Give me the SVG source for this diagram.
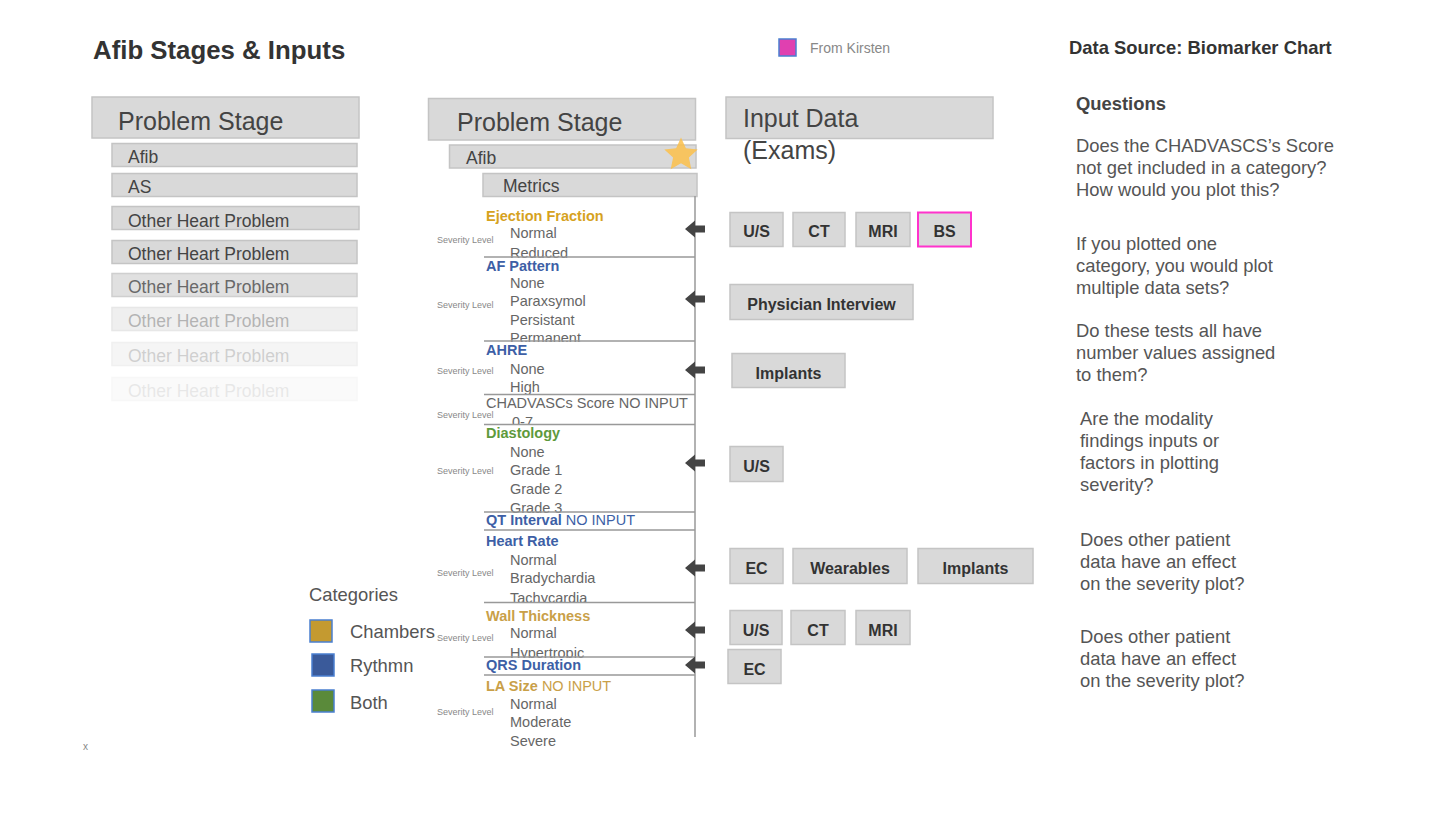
<svg xmlns="http://www.w3.org/2000/svg" width="1440" height="817" viewBox="0 0 1440 817">
<style>
text{font-family:"Liberation Sans",Arial,sans-serif}
.box{fill:#d9d9d9;stroke:#c4c4c4;stroke-width:1.5}
.hdr{font-size:25px;fill:#444}
.item{font-size:17.5px;fill:#444}
.btn{font-size:16px;font-weight:bold;fill:#333;text-anchor:middle}
.mh{font-size:14.5px;font-weight:bold}
.val{font-size:14.5px;fill:#666}
.sev{font-size:9px;fill:#888}
.gold{fill:#d6a21e}
.gold2{fill:#c9a048}
.blue{fill:#3d5fa6}
.green{fill:#5e9a3c}
.div{stroke:#999;stroke-width:1.5}
.band{fill:#fff}
.q{font-size:18.4px;fill:#555}
.arrow{fill:#444}
</style>

<g id="title"><text x="93" y="59" style="font-size:25.8px;font-weight:bold;fill:#333">Afib Stages &amp; Inputs</text></g>

<g id="legend-kirsten">
<rect x="779" y="39" width="17" height="17" fill="#e040b0" stroke="#4a7fd0" stroke-width="1.5"/>
<text x="810" y="53" style="font-size:14px;fill:#888">From Kirsten</text>
</g>

<g id="data-source"><text x="1069" y="54" style="font-size:18.4px;font-weight:bold;fill:#333">Data Source: Biomarker Chart</text></g>

<!-- Left column -->
<g id="left-stage">
<rect class="box" x="92" y="97" width="267" height="41"/>
<text class="hdr" x="118" y="130">Problem Stage</text>
</g>
<g id="left-afib"><rect class="box" x="112" y="143.5" width="245" height="23"/><text class="item" x="128" y="163">Afib</text></g>
<g id="left-as"><rect class="box" x="112" y="173.5" width="245" height="23"/><text class="item" x="128" y="193">AS</text></g>
<g id="left-other1"><rect class="box" x="112" y="206.5" width="247" height="23"/><text class="item" x="128" y="226.5">Other Heart Problem</text></g>
<g id="left-other2"><rect class="box" x="112" y="240.5" width="245" height="23"/><text class="item" x="128" y="260">Other Heart Problem</text></g>
<g id="left-other3" opacity="0.8"><rect class="box" x="112" y="273.5" width="245" height="23"/><text class="item" x="128" y="293">Other Heart Problem</text></g>
<g id="left-other4" opacity="0.4"><rect class="box" x="112" y="307.5" width="245" height="23"/><text class="item" x="128" y="327">Other Heart Problem</text></g>
<g id="left-other5" opacity="0.25"><rect class="box" x="112" y="342.5" width="245" height="23"/><text class="item" x="128" y="362">Other Heart Problem</text></g>
<g id="left-other6" opacity="0.12"><rect class="box" x="112" y="377.5" width="245" height="23"/><text class="item" x="128" y="397">Other Heart Problem</text></g>

<!-- Middle column -->
<g id="mid-stage">
<rect class="box" x="428.5" y="98.5" width="267" height="41.5"/>
<text class="hdr" x="457" y="131">Problem Stage</text>
</g>
<g id="mid-afib">
<rect class="box" x="449.5" y="145" width="246.5" height="23"/>
<text class="item" x="466" y="164">Afib</text>
<polygon points="681,137.5 685.9,148.3 697.7,149.6 688.9,157.6 691.3,169.3 681,163.3 670.7,169.3 673.1,157.6 664.3,149.6 676.1,148.3" fill="#fbc04a" opacity="0.85"/>
</g>
<g id="metrics">
<rect class="box" x="483" y="173.5" width="214" height="23"/>
<text class="item" x="503" y="192">Metrics</text>
</g>

<g id="metric-ef">
<text class="mh gold" x="486" y="221">Ejection Fraction</text>
<text class="sev" x="437" y="243">Severity Level</text>
<text class="val" x="510" y="238">Normal</text>
<text class="val" x="510" y="257.5">Reduced</text>
</g>
<g id="metric-af">
<rect class="band" x="484" y="258" width="210" height="83"/>
<text class="mh blue" x="486" y="271">AF Pattern</text>
<text class="sev" x="437" y="308">Severity Level</text>
<text class="val" x="510" y="288">None</text>
<text class="val" x="510" y="306">Paraxsymol</text>
<text class="val" x="510" y="325">Persistant</text>
<text class="val" x="510" y="343">Permanent</text>
</g>
<g id="metric-ahre">
<rect class="band" x="484" y="342" width="210" height="52"/>
<text class="mh blue" x="486" y="355">AHRE</text>
<text class="sev" x="437" y="374">Severity Level</text>
<text class="val" x="510" y="374">None</text>
<text class="val" x="510" y="392">High</text>
</g>
<g id="metric-chad">
<rect class="band" x="484" y="395" width="210" height="29"/>
<text class="val" x="486" y="408">CHADVASCs Score NO INPUT</text>
<text class="sev" x="437" y="418">Severity Level</text>
<text class="val" x="512" y="426.5">0-7</text>
</g>
<g id="metric-dia">
<rect class="band" x="484" y="425" width="210" height="87"/>
<text class="mh green" x="486" y="438">Diastology</text>
<text class="sev" x="437" y="474">Severity Level</text>
<text class="val" x="510" y="456.5">None</text>
<text class="val" x="510" y="475">Grade 1</text>
<text class="val" x="510" y="494">Grade 2</text>
<text class="val" x="510" y="513">Grade 3</text>
</g>
<g id="metric-qt">
<rect class="band" x="484" y="513" width="210" height="17"/>
<text class="mh blue" x="486" y="525">QT Interval <tspan style="font-weight:normal">NO INPUT</tspan></text>
</g>
<g id="metric-hr">
<rect class="band" x="484" y="531" width="210" height="71"/>
<text class="mh blue" x="486" y="545.5">Heart Rate</text>
<text class="sev" x="437" y="576">Severity Level</text>
<text class="val" x="510" y="565">Normal</text>
<text class="val" x="510" y="583">Bradychardia</text>
<text class="val" x="510" y="602.5">Tachycardia</text>
</g>
<g id="metric-wt">
<rect class="band" x="484" y="603" width="210" height="54"/>
<text class="mh gold2" x="486" y="620.5">Wall Thickness</text>
<text class="sev" x="437" y="641">Severity Level</text>
<text class="val" x="510" y="638">Normal</text>
<text class="val" x="510" y="657.5">Hypertropic</text>
</g>
<g id="metric-qrs">
<rect class="band" x="484" y="658" width="210" height="17"/>
<text class="mh blue" x="486" y="670">QRS Duration</text>
</g>
<g id="metric-la">
<rect class="band" x="484" y="676" width="210" height="75"/>
<text class="mh gold2" x="486" y="690.5">LA Size <tspan style="font-weight:normal">NO INPUT</tspan></text>
<text class="sev" x="437" y="715">Severity Level</text>
<text class="val" x="510" y="709">Normal</text>
<text class="val" x="510" y="727">Moderate</text>
<text class="val" x="510" y="745.5">Severe</text>
</g>
<g id="metric-dividers">
<line class="div" x1="695" y1="196" x2="695" y2="737"/>
<line class="div" x1="484" y1="257" x2="695" y2="257"/>
<line class="div" x1="484" y1="341" x2="695" y2="341"/>
<line class="div" x1="484" y1="394.5" x2="695" y2="394.5"/>
<line class="div" x1="484" y1="424.5" x2="695" y2="424.5"/>
<line class="div" x1="484" y1="512" x2="695" y2="512"/>
<line class="div" x1="484" y1="530" x2="695" y2="530"/>
<line class="div" x1="484" y1="602.5" x2="695" y2="602.5"/>
<line class="div" x1="484" y1="657" x2="695" y2="657"/>
<line class="div" x1="484" y1="675" x2="695" y2="675"/>
</g>

<!-- Input data column -->
<g id="input-header">
<rect class="box" x="726" y="97" width="267" height="41.5"/>
<text class="hdr" x="743" y="127">Input Data</text>
<text class="hdr" x="743" y="159">(Exams)</text>
</g>
<g id="in-us1"><rect class="box" x="730" y="212.5" width="53" height="34"/><text class="btn" x="756.5" y="237">U/S</text></g>
<g id="in-ct1"><rect class="box" x="793" y="212.5" width="52" height="34"/><text class="btn" x="819" y="237">CT</text></g>
<g id="in-mri1"><rect class="box" x="856" y="212.5" width="54" height="34"/><text class="btn" x="883" y="237">MRI</text></g>
<g id="in-bs"><rect x="918" y="212.5" width="53" height="34" fill="#d9d9d9" stroke="#ff33cc" stroke-width="2"/><text class="btn" x="944.5" y="237">BS</text></g>
<g id="in-physician"><rect class="box" x="730" y="284.5" width="183" height="35"/><text class="btn" x="821.5" y="310">Physician Interview</text></g>
<g id="in-implants1"><rect class="box" x="732" y="353.5" width="113" height="34"/><text class="btn" x="788.5" y="379">Implants</text></g>
<g id="in-us2"><rect class="box" x="730" y="446.5" width="53" height="35"/><text class="btn" x="756.5" y="471.5">U/S</text></g>
<g id="in-ec1"><rect class="box" x="730" y="548.5" width="53" height="35"/><text class="btn" x="756.5" y="574">EC</text></g>
<g id="in-wearables"><rect class="box" x="793" y="548.5" width="114" height="35"/><text class="btn" x="850" y="574">Wearables</text></g>
<g id="in-implants2"><rect class="box" x="918" y="548.5" width="115" height="35"/><text class="btn" x="975.5" y="574">Implants</text></g>
<g id="in-us3"><rect class="box" x="730" y="610.5" width="52" height="34"/><text class="btn" x="756" y="635.5">U/S</text></g>
<g id="in-ct2"><rect class="box" x="791" y="610.5" width="54" height="34"/><text class="btn" x="818" y="635.5">CT</text></g>
<g id="in-mri2"><rect class="box" x="856" y="610.5" width="54" height="34"/><text class="btn" x="883" y="635.5">MRI</text></g>
<g id="in-ec2"><rect class="box" x="728" y="649.5" width="53" height="34"/><text class="btn" x="754.5" y="675">EC</text></g>

<!-- Connectors -->
<g id="connectors">
<polygon class="arrow" points="685,229 695,220.5 695,225.5 705,225.5 705,232.5 695,232.5 695,237.5"/>
<polygon class="arrow" points="685,299 695,290.5 695,295.5 705,295.5 705,302.5 695,302.5 695,307.5"/>
<polygon class="arrow" points="685,370 695,361.5 695,366.5 705,366.5 705,373.5 695,373.5 695,378.5"/>
<polygon class="arrow" points="685,463 695,454.5 695,459.5 705,459.5 705,466.5 695,466.5 695,471.5"/>
<polygon class="arrow" points="685,568 695,559.5 695,564.5 705,564.5 705,571.5 695,571.5 695,576.5"/>
<polygon class="arrow" points="685,630 695,621.5 695,626.5 705,626.5 705,633.5 695,633.5 695,638.5"/>
<polygon class="arrow" points="685,665 695,656.5 695,661.5 705,661.5 705,668.5 695,668.5 695,673.5"/>
</g>

<!-- Categories legend -->
<g id="categories">
<text x="309" y="601" style="font-size:18.4px;fill:#555">Categories</text>
<rect x="310" y="620" width="22" height="22" fill="#c49a30" stroke="#4a7fd0" stroke-width="1.5"/>
<text x="350" y="638" style="font-size:18.4px;fill:#555">Chambers</text>
<rect x="312" y="654" width="22" height="22" fill="#3a5a9a" stroke="#4a7fd0" stroke-width="1.5"/>
<text x="350" y="672" style="font-size:18.4px;fill:#555">Rythmn</text>
<rect x="312" y="690" width="22" height="22" fill="#5a8a3a" stroke="#4a7fd0" stroke-width="1.5"/>
<text x="350" y="709" style="font-size:18.4px;fill:#555">Both</text>
</g>

<!-- Questions -->
<g id="questions">
<text x="1076" y="110" style="font-size:18.4px;font-weight:bold;fill:#444">Questions</text>
<text class="q" x="1076" y="152">Does the CHADVASCS’s Score</text>
<text class="q" x="1076" y="174">not get included in a category?</text>
<text class="q" x="1076" y="196">How would you plot this?</text>
<text class="q" x="1076" y="250">If you plotted one</text>
<text class="q" x="1076" y="272">category, you would plot</text>
<text class="q" x="1076" y="294">multiple data sets?</text>
<text class="q" x="1076" y="337">Do these tests all have</text>
<text class="q" x="1076" y="359">number values assigned</text>
<text class="q" x="1076" y="381">to them?</text>
<text class="q" x="1080" y="425">Are the modality</text>
<text class="q" x="1080" y="447">findings inputs or</text>
<text class="q" x="1080" y="469">factors in plotting</text>
<text class="q" x="1080" y="491">severity?</text>
<text class="q" x="1080" y="546">Does other patient</text>
<text class="q" x="1080" y="568">data have an effect</text>
<text class="q" x="1080" y="590">on the severity plot?</text>
<text class="q" x="1080" y="643">Does other patient</text>
<text class="q" x="1080" y="665">data have an effect</text>
<text class="q" x="1080" y="687">on the severity plot?</text>
</g>

<g id="mark"><text x="83" y="750" style="font-size:10px;fill:#888">x</text></g>
</svg>
